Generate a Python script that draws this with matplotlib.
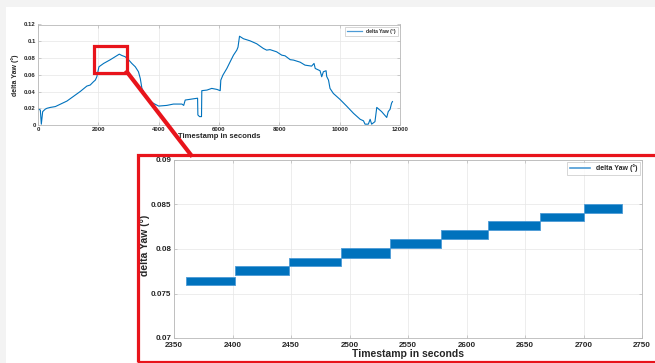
import matplotlib
matplotlib.use("Agg")
import matplotlib.pyplot as plt
from matplotlib.patches import Rectangle
from matplotlib.lines import Line2D

plt.rcParams['font.family'] = ['Liberation Sans', 'DejaVu Sans']

# ---- overview series (Timestamp in seconds, delta Yaw) ----
t_all = [0, 77, 110, 155, 243, 300, 410, 575, 960, 1400, 1620, 1730, 1840, 1900, 1950,
         2020, 2175, 2400, 2695, 2780, 2890, 3000, 3110, 3225, 3330, 3390, 3445, 3555,
         3665, 3830, 4000, 4270, 4490, 4770, 4830, 4880, 5100, 5290, 5300, 5355, 5420,
         5430, 5600, 5760, 5930, 6040, 6060, 6130, 6260, 6370, 6480, 6590, 6630, 6680,
         6810, 7030, 7250, 7470, 7580, 7690, 7910, 8080, 8190, 8360, 8470, 8690, 8850,
         9070, 9150, 9190, 9350, 9405, 9460, 9550, 9570, 9630, 9680, 9790, 10010, 10230,
         10460, 10680, 10790, 10840, 10950, 11010, 11060, 11170, 11230, 11390, 11560,
         11610, 11670, 11720, 11750]
yaw_all = [0.019, 0.018, 0.001, 0.016, 0.019, 0.020, 0.021, 0.022, 0.0286, 0.040, 0.0465,
           0.0477, 0.0517, 0.0536, 0.0576, 0.0695, 0.0735, 0.078, 0.0846, 0.083, 0.0815,
           0.078, 0.0735, 0.0695, 0.0636, 0.0556, 0.0437, 0.0358, 0.0298, 0.0258, 0.0226,
           0.0234, 0.025, 0.025, 0.0234, 0.0298, 0.031, 0.032, 0.012, 0.010, 0.010, 0.041,
           0.0417, 0.0437, 0.0425, 0.041, 0.0536, 0.0596, 0.0675, 0.0755, 0.0834, 0.0894,
           0.093, 0.106, 0.103, 0.1005, 0.097, 0.0914, 0.0894, 0.090, 0.0874, 0.0834,
           0.0826, 0.078, 0.0775, 0.075, 0.0715, 0.0703, 0.0735, 0.0675, 0.0648, 0.0576,
           0.0636, 0.0648, 0.058, 0.0536, 0.0437, 0.0377, 0.0306, 0.0226, 0.0139, 0.0068,
           0.005, 0.001, 0.001, 0.0068, 0.001, 0.004, 0.021, 0.016, 0.009, 0.016, 0.0187,
           0.026, 0.028]

# ---- zoomed steps (each step is a dense band between low and high) ----
step_start = [2360, 2402, 2448, 2493, 2535, 2578, 2618, 2663, 2700]
step_end = [2402, 2448, 2493, 2535, 2578, 2618, 2663, 2700, 2733]
step_low = [0.0760, 0.0771, 0.0781, 0.0790, 0.0801, 0.0811, 0.0821, 0.0831, 0.0840]
step_high = [0.0769, 0.0781, 0.0790, 0.0801, 0.0811, 0.0821, 0.0831, 0.0841, 0.0850]

top_xticks = [0, 2000, 4000, 6000, 8000, 10000, 12000]
top_yticks = [0, 0.02, 0.04, 0.06, 0.08, 0.1, 0.12]
top_yticklabels = ['0', '0.02', '0.04', '0.06', '0.08', '0.1', '0.12']
bot_xticks = [2350, 2400, 2450, 2500, 2550, 2600, 2650, 2700, 2750]
bot_yticks = [0.07, 0.075, 0.08, 0.085, 0.09]
bot_yticklabels = ['0.07', '0.075', '0.08', '0.085', '0.09']

W, H = 655, 363
BLUE = '#0072BD'
LBLUE = '#4c9bd6'
TXT = '#262626'
SPINE = '#b8b8b8'

fig = plt.figure(figsize=(W / 100, H / 100), dpi=100)
fig.patch.set_facecolor('white')

def fx(px):
    return px / W

def fy(py):
    return 1 - py / H

# gray border strips
fig.add_artist(Rectangle((0, fy(7)), 1, 7 / H, transform=fig.transFigure,
                         facecolor='#f3f3f3', edgecolor='none', zorder=0))
fig.add_artist(Rectangle((0, 0), fx(6), 1, transform=fig.transFigure,
                         facecolor='#f3f3f3', edgecolor='none', zorder=0))

def style(ax, fs, pad):
    for s in ax.spines.values():
        s.set_color(SPINE)
        s.set_linewidth(0.6)
    ax.grid(True, color='#e6e6e6', linewidth=0.5)
    ax.set_axisbelow(True)
    ax.tick_params(direction='in', length=2, width=0.5, color=SPINE,
                   labelsize=fs, labelcolor=TXT, pad=pad, top=True, right=True,
                   labeltop=False, labelright=False)
    for lab in ax.get_xticklabels() + ax.get_yticklabels():
        lab.set_fontweight('bold')

def style_legend(leg):
    leg.get_frame().set_edgecolor(SPINE)
    leg.get_frame().set_linewidth(0.5)
    for tx in leg.get_texts():
        tx.set_fontweight('bold')
        tx.set_color(TXT)

# ---- top overview axes ----
ax1 = fig.add_axes([fx(38), fy(125), fx(400) - fx(38), fy(24.5) - fy(125)])
ax1.plot(t_all, yaw_all, color=BLUE, linewidth=0.8)
ax1.set_xlim(0, 12000)
ax1.set_ylim(0, 0.12)
ax1.set_xticks(top_xticks)
ax1.set_xticklabels([str(v) for v in top_xticks])
ax1.set_yticks(top_yticks)
ax1.set_yticklabels(top_yticklabels)
style(ax1, 4.3, 1.5)
ax1.set_xlabel('Timestamp in seconds', fontsize=5.5, fontweight='bold', color=TXT, labelpad=1)
ax1.set_ylabel('delta Yaw (°)', fontsize=5, fontweight='bold', color=TXT)
ax1.yaxis.set_label_coords(-0.052, 0.5)
leg1 = ax1.legend([Line2D([0], [0], color=LBLUE, linewidth=0.9)], ['delta Yaw (°)'],
                  loc='upper right', fontsize=3.6, frameon=True, fancybox=False,
                  handlelength=3, borderpad=0.4, borderaxespad=0.5)
style_legend(leg1)
ax1.add_patch(Rectangle((1870, 0.0625), 1080, 0.032, fill=False,
                        edgecolor='#e8141b', linewidth=2.3, zorder=5))

# ---- bottom zoom axes ----
ax2 = fig.add_axes([fx(174), fy(338), fx(642) - fx(174), fy(160) - fy(338)])
for i in range(len(step_start)):
    ax2.fill_between([step_start[i], step_end[i]], step_low[i], step_high[i],
                     color=BLUE, edgecolor=LBLUE, linewidth=0.6)
ax2.set_xlim(2350, 2750)
ax2.set_ylim(0.07, 0.09)
ax2.set_xticks(bot_xticks)
ax2.set_xticklabels([str(v) for v in bot_xticks])
ax2.set_yticks(bot_yticks)
ax2.set_yticklabels(bot_yticklabels)
style(ax2, 5.8, 2)
ax2.tick_params(axis='x', pad=3)
ax2.set_xlabel('Timestamp in seconds', fontsize=7.5, fontweight='bold', color=TXT, labelpad=0)
ax2.set_ylabel('delta Yaw (°)', fontsize=7.5, fontweight='bold', color=TXT)
ax2.yaxis.set_label_coords(-0.052, 0.52)
leg2 = ax2.legend([Line2D([0], [0], color=LBLUE, linewidth=1.2)], ['delta Yaw (°)'],
                  loc='upper right', fontsize=5, frameon=True,
                  fancybox=False, handlelength=3, borderpad=0.4, borderaxespad=0.25)
style_legend(leg2)

# ---- red callout frame and connector ----
fig.add_artist(Rectangle((fx(138), fy(362)), fx(680) - fx(138), fy(155) - fy(362),
                         transform=fig.transFigure, fill=False, edgecolor='#e8141b',
                         linewidth=2.3, zorder=10))
fig.add_artist(Line2D([fx(127), fx(191)], [fy(72), fy(155)], transform=fig.transFigure,
                      color='#e8141b', linewidth=3, zorder=10))

fig.savefig('out.png', dpi=100)
